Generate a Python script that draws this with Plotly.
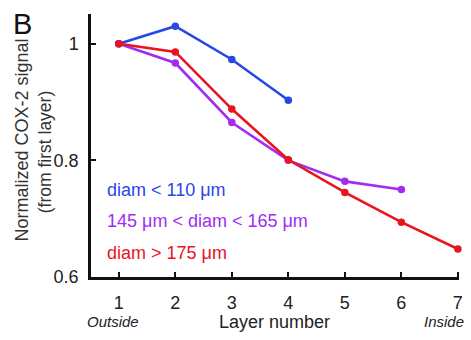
import plotly.graph_objects as go

layers = [1, 2, 3, 4, 5, 6, 7]
blue_vals = [1.0, 1.030, 0.973, 0.903]
purple_vals = [1.0, 0.967, 0.865, 0.800, 0.764, 0.750]
red_vals = [1.0, 0.986, 0.888, 0.801, 0.745, 0.694, 0.648]
series_names = ["diam < 110 \u03bcm", "145 \u03bcm < diam < 165 \u03bcm", "diam > 175 \u03bcm"]
y_ticks = [0.6, 0.8, 1.0]
y_ticklabels = ["0.6", "0.8", "1"]

BLUE = "#2847e6"
PURPLE = "#a22cf2"
RED = "#e8141e"
FONT = "Liberation Sans, Arial, sans-serif"

W, H = 471, 340
L, R, T, B = 91, 8, 14, 62.5
pw, ph = W - L - R, H - T - B


def px(x):
    return (x - L) / pw


def py(y):
    return (H - B - y) / ph


fig = go.Figure()
for vals, col, name in [(blue_vals, BLUE, series_names[0]),
                        (purple_vals, PURPLE, series_names[1]),
                        (red_vals, RED, series_names[2])]:
    fig.add_trace(go.Scatter(
        x=layers[:len(vals)], y=vals, mode="lines+markers", name=name,
        line=dict(color=col, width=2.6),
        marker=dict(color=col, size=7.5),
        cliponaxis=False, showlegend=False))

ann = []
# panel letter
ann.append(dict(text="B", x=px(10), y=py(24), xanchor="left", yanchor="middle",
                font=dict(size=29, color="#111", family=FONT)))
# y title (two lines)
ann.append(dict(text="Normalized COX-2 signal", x=px(21), y=py(140), textangle=-90,
                xanchor="center", yanchor="middle", font=dict(size=18, color="#333", family=FONT)))
ann.append(dict(text="(from first layer)", x=px(44), y=py(152), textangle=-90,
                xanchor="center", yanchor="middle", font=dict(size=17.5, color="#333", family=FONT)))
# x labels
ann.append(dict(text="Layer number", x=px(276.5), y=py(322.5), xanchor="center", yanchor="middle",
                font=dict(size=18, color="#222", family=FONT)))
ann.append(dict(text="<i>Outside</i>", x=px(113), y=py(322.5), xanchor="center", yanchor="middle",
                font=dict(size=15, color="#222", family=FONT)))
ann.append(dict(text="<i>Inside</i>", x=px(447.5), y=py(322.5), xanchor="center", yanchor="middle",
                font=dict(size=15, color="#222", family=FONT)))
# series labels
for name, col, yy in [(series_names[0], BLUE, 190.5), (series_names[1], PURPLE, 221.5),
                      (series_names[2], RED, 253)]:
    ann.append(dict(text=name, x=px(105), y=py(yy), xanchor="left", yanchor="middle",
                    font=dict(size=18, color=col, family=FONT)))

for a in ann:
    a.update(xref="paper", yref="paper", showarrow=False)

fig.update_layout(
    width=W, height=H,
    margin=dict(l=L, r=R, t=T, b=B),
    paper_bgcolor="white", plot_bgcolor="white",
    font=dict(family=FONT, size=18, color="#222"),
    annotations=ann,
    xaxis=dict(range=[0.508, 7.02], tickvals=layers, ticktext=[str(v) for v in layers],
               showline=True, linecolor="#111", linewidth=2.5, ticks="inside", ticklen=5,
               tickwidth=2, tickcolor="#111", showgrid=False, zeroline=False,
               ticklabelstandoff=8, tickfont=dict(size=18, color="#222")),
    yaxis=dict(range=[0.6, 1.051], tickvals=y_ticks, ticktext=y_ticklabels,
               showline=True, linecolor="#111", linewidth=2.5, ticks="inside", ticklen=5,
               tickwidth=2, tickcolor="#111", showgrid=False, zeroline=False,
               ticklabelstandoff=6, tickfont=dict(size=18, color="#222")),
)

fig.write_html("out.html", config={"displayModeBar": False},
               post_script="document.body.style.margin='0';document.body.style.padding='0';")
